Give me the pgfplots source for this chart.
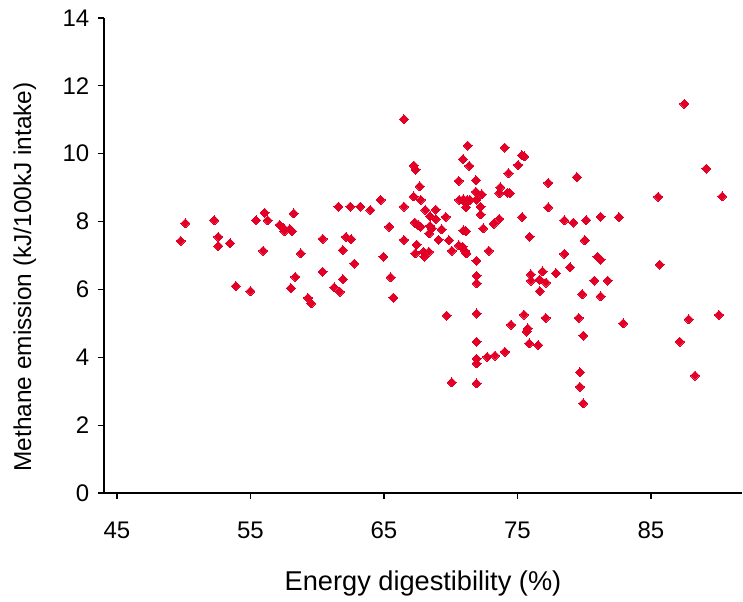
\documentclass[border=0pt]{standalone}
\usepackage{fontspec}
\setmainfont{Liberation Sans}
\usepackage{pgfplots}
\pgfplotsset{compat=1.18}
\definecolor{mred}{RGB}{226,0,38}
\begin{document}
\begin{tikzpicture}
\useasboundingbox (-52pt,-54pt) rectangle (319.5pt,246.5pt);
\begin{axis}[
  at={(0,0)}, anchor=south west,
  scale only axis, width=319pt, height=237.5pt,
  xmin=44.03, xmax=91.82, ymin=0, ymax=14,
  axis lines*=left,
  axis line style={black, line width=0.6pt},
  xtick={45,55,65,75,85}, ytick={0,2,...,14},
  tick align=outside, major tick length=2.8pt,
  tick style={black, line width=0.6pt},
  /pgf/number format/assume math mode=true,
  tick label style={font=\fontsize{12}{14}\selectfont},
  xticklabel style={yshift=-8pt},
  yticklabel style={xshift=-1pt},
  xlabel style={font=\fontsize{13.6}{15}\selectfont},
  ylabel style={font=\fontsize{12.2}{14}\selectfont},
  xlabel={Energy digestibility (\%)},
  ylabel={Methane emission (kJ/100kJ intake)},
  xlabel style={at={(axis description cs:0.5,-0.19)}, anchor=center},
  ylabel style={at={(axis description cs:-0.124,0.455)}, anchor=center},
  clip=false,
]
\addplot[only marks, color=mred, mark=square*, mark size=1.6pt, mark options={rotate=45, fill=mred, draw=mred, line width=0pt}] table {
x y
50.12 7.95
49.77 7.43
52.29 8.04
52.59 7.55
52.59 7.28
53.48 7.36
55.42 8.04
56.06 8.26
56.29 8.04
57.18 7.90
57.44 7.82
57.55 7.72
57.96 7.78
58.11 7.72
58.24 8.24
55.95 7.14
58.78 7.06
60.41 7.49
60.41 6.52
58.35 6.37
58.03 6.04
53.91 6.10
55.00 5.95
59.31 5.75
59.55 5.59
61.27 6.06
61.70 5.93
61.93 6.30
61.92 7.16
62.16 7.55
62.55 7.48
61.59 8.44
62.48 8.44
63.23 8.44
63.98 8.34
62.77 6.76
64.96 6.96
65.50 6.36
65.71 5.76
64.75 8.64
65.39 7.85
66.50 11.02
66.50 8.44
66.50 7.46
67.24 9.65
67.37 9.53
67.68 9.04
67.22 8.74
67.75 8.64
68.10 8.34
68.88 8.35
68.45 8.16
68.88 8.07
69.63 8.14
67.32 7.97
67.57 7.90
67.73 7.85
68.45 7.87
68.58 7.80
69.32 7.77
68.39 7.65
67.45 7.32
69.09 7.46
69.87 7.45
67.34 7.06
67.96 7.11
68.02 6.97
68.37 7.11
70.09 7.14
70.60 7.30
70.89 7.26
71.06 7.14
71.18 7.06
70.95 7.74
71.14 7.72
70.64 8.64
70.95 8.66
71.14 8.54
71.24 8.64
71.44 8.64
71.89 8.88
71.93 8.65
72.32 8.80
71.14 8.42
72.24 8.44
72.24 8.21
72.44 7.80
73.21 7.93
73.63 8.08
72.86 7.14
73.72 9.01
73.65 8.84
74.25 8.85
74.44 8.83
71.27 10.24
74.04 10.18
75.34 9.96
75.52 9.92
70.93 9.84
71.39 9.64
75.05 9.67
74.33 9.43
70.60 9.20
71.89 9.22
77.31 9.14
79.45 9.31
75.36 8.13
75.91 7.55
77.31 8.42
78.51 8.04
79.18 7.97
80.15 8.04
81.23 8.14
82.60 8.13
80.04 7.45
78.51 7.05
80.99 6.96
81.22 6.88
78.94 6.65
71.93 6.84
71.94 6.40
71.94 6.18
76.01 6.44
76.01 6.26
76.88 6.53
76.66 6.29
77.14 6.20
77.88 6.48
76.67 5.95
80.76 6.26
81.76 6.26
79.86 5.86
81.23 5.80
71.94 5.29
69.70 5.23
71.94 4.46
71.94 3.96
71.94 3.82
72.74 4.01
73.32 4.05
74.06 4.16
70.07 3.26
71.94 3.23
74.52 4.96
75.49 5.26
75.78 4.85
75.69 4.76
77.12 5.16
75.88 4.41
76.56 4.36
79.58 5.16
79.93 4.64
79.68 3.56
79.68 3.13
79.93 2.64
82.93 5.00
87.82 5.12
90.09 5.25
87.16 4.46
88.30 3.46
87.50 11.47
89.14 9.56
85.54 8.73
90.34 8.74
85.66 6.73
};
\end{axis}
\end{tikzpicture}
\end{document}
